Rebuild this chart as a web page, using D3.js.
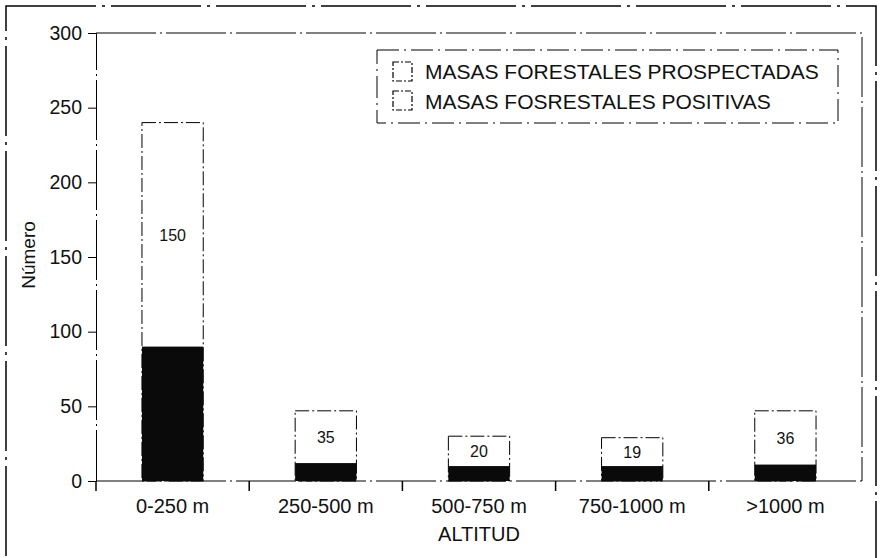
<!DOCTYPE html>
<html>
<head>
<meta charset="utf-8">
<script src="https://cdn.jsdelivr.net/npm/d3@7"></script>
<style>
  body { margin: 0; background: #fff; }
  svg { font-family: "Liberation Sans", Arial, sans-serif; }
</style>
</head>
<body>
<svg id="chart" width="881" height="558"></svg>
<script>
// data
var categories = ["0-250 m", "250-500 m", "500-750 m", "750-1000 m", ">1000 m"];
var prospected = [240, 47, 30, 29, 47];
var positive = [90, 12, 10, 10, 11];
var bar_labels = ["150", "35", "20", "19", "36"];
var y_ticks = [0, 50, 100, 150, 200, 250, 300];
var legend_labels = ["MASAS FORESTALES PROSPECTADAS", "MASAS FOSRESTALES POSITIVAS"];

var margin = { left: 96, right: 19, top: 33, bottom: 77 };
var width = 881, height = 558;
var svg = d3.select("#chart");
var dash = "60,4,2,4";

// outer frame of the scanned figure
svg.append("rect")
  .attr("x", 6).attr("y", 6)
  .attr("width", 870).attr("height", 560)
  .attr("fill", "none").attr("stroke", "#000")
  .attr("stroke-width", 1.5)
  .attr("stroke-dasharray", "90,6,3,6");

var x = d3.scaleBand()
  .domain(categories)
  .range([margin.left, width - margin.right])
  .paddingInner(0.6)
  .paddingOuter(0.3);

var y = d3.scaleLinear()
  .domain([0, 300])
  .range([height - margin.bottom, margin.top]);

// top and right plot border
svg.append("path")
  .attr("d", `M${margin.left},${y(300)}H${width - margin.right}V${y(0)}`)
  .attr("fill", "none").attr("stroke", "#000")
  .attr("stroke-width", 1)
  .attr("stroke-dasharray", dash);

// Y axis
var y_axis = svg.append("g")
  .attr("transform", `translate(${margin.left},0)`)
  .call(d3.axisLeft(y).tickValues(y_ticks).tickSize(8).tickPadding(6));
y_axis.select(".domain").attr("stroke-dasharray", dash);
y_axis.selectAll(".tick text")
  .attr("font-size", 19.5).attr("fill", "#111");

// X axis (ticks at category boundaries)
var step = x.step();
var bounds = d3.range(categories.length).map((i) => x(categories[i]) - step * 0.3);
svg.append("line")
  .attr("x1", margin.left).attr("x2", width - margin.right)
  .attr("y1", y(0)).attr("y2", y(0))
  .attr("stroke", "#000").attr("stroke-dasharray", dash);
svg.selectAll(".xtick")
  .data(bounds)
  .join("line")
  .attr("class", "xtick")
  .attr("x1", (d) => d).attr("x2", (d) => d)
  .attr("y1", y(0)).attr("y2", y(0) + 10)
  .attr("stroke", "#000").attr("stroke-width", 1.5);
svg.selectAll(".xlabel")
  .data(categories)
  .join("text")
  .attr("class", "xlabel")
  .attr("x", (d) => x(d) + x.bandwidth() / 2)
  .attr("y", 513)
  .attr("text-anchor", "middle")
  .attr("font-size", 20)
  .attr("fill", "#111")
  .text((d) => d);

svg.append("text")
  .attr("x", x(categories[2]) + x.bandwidth() / 2)
  .attr("y", 541)
  .attr("text-anchor", "middle")
  .attr("font-size", 20)
  .attr("fill", "#111")
  .text("ALTITUD");

svg.append("text")
  .attr("transform", `translate(35,255) rotate(-90)`)
  .attr("text-anchor", "middle")
  .attr("font-size", 19)
  .attr("fill", "#111")
  .text("Número");

// bars
var idx = d3.range(categories.length);
svg.selectAll(".total")
  .data(idx)
  .join("rect")
  .attr("class", "total")
  .attr("x", (i) => x(categories[i]))
  .attr("y", (i) => y(prospected[i]))
  .attr("width", x.bandwidth())
  .attr("height", (i) => y(0) - y(prospected[i]))
  .attr("fill", "#fff").attr("stroke", "#000")
  .attr("stroke-width", 1)
  .attr("stroke-dasharray", "14,3,2,3");

svg.selectAll(".pos")
  .data(idx)
  .join("rect")
  .attr("class", "pos")
  .attr("x", (i) => x(categories[i]))
  .attr("y", (i) => y(positive[i]))
  .attr("width", x.bandwidth())
  .attr("height", (i) => y(0) - y(positive[i]))
  .attr("fill", "#0a0a0a");

svg.selectAll(".blabel")
  .data(idx)
  .join("text")
  .attr("class", "blabel")
  .attr("x", (i) => x(categories[i]) + x.bandwidth() / 2)
  .attr("y", (i) => (y(prospected[i]) + y(positive[i])) / 2 + 6)
  .attr("text-anchor", "middle")
  .attr("font-size", 16)
  .attr("fill", "#111")
  .text((i) => bar_labels[i]);

// legend
var legend = svg.append("g").attr("transform", "translate(377,50)");
legend.append("rect")
  .attr("width", 461).attr("height", 73)
  .attr("fill", "#fff").attr("stroke", "#000")
  .attr("stroke-dasharray", "22,5,2,5");
legend.selectAll(".sw")
  .data(legend_labels)
  .join("rect")
  .attr("class", "sw")
  .attr("x", 16).attr("y", (d, i) => 12 + i * 29)
  .attr("width", 19).attr("height", 19)
  .attr("fill", "#fff").attr("stroke", "#000")
  .attr("stroke-width", 1.2)
  .attr("stroke-dasharray", "6,2,2,2");
legend.selectAll(".lt")
  .data(legend_labels)
  .join("text")
  .attr("class", "lt")
  .attr("x", 48).attr("y", (d, i) => 29 + i * 30)
  .attr("font-size", 21)
  .attr("fill", "#111")
  .text((d) => d);
</script>
</body>
</html>
